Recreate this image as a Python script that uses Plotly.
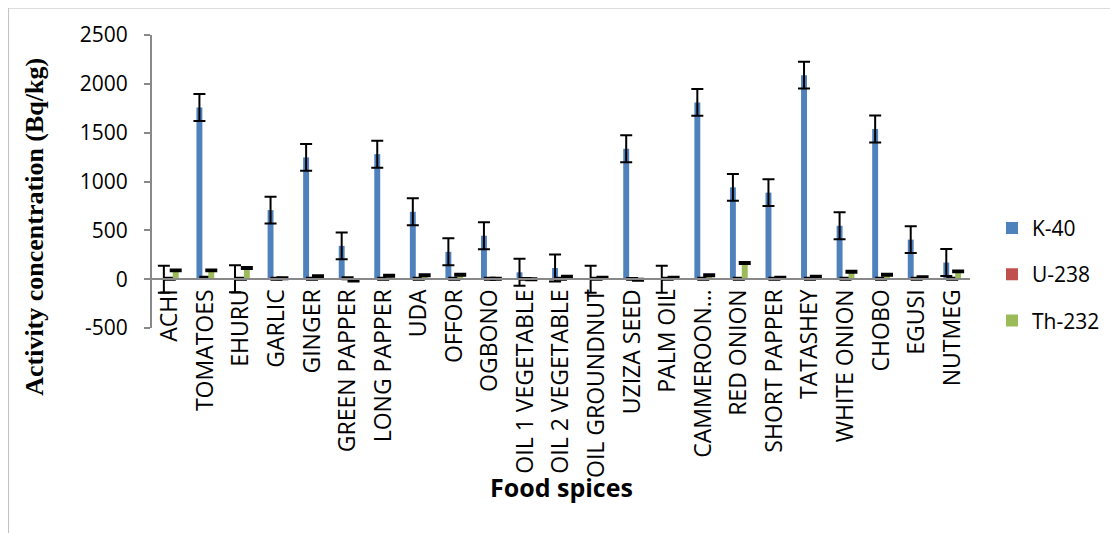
import plotly.graph_objects as go

categories = ["ACHI", "TOMATOES", "EHURU", "GARLIC", "GINGER", "GREEN PAPPER",
              "LONG PAPPER", "UDA", "OFFOR", "OGBONO", "OIL 1 VEGETABLE",
              "OIL 2 VEGETABLE", "OIL GROUNDNUT", "UZIZA SEED", "PALM OIL",
              "CAMMEROON…", "RED ONION", "SHORT PAPPER", "TATASHEY",
              "WHITE ONION", "CHOBO", "EGUSI", "NUTMEG"]

k40 = [0, 1757, 5, 707, 1247, 341, 1280, 690, 280, 445, 70, 114, 0, 1335, 0,
       1810, 940, 886, 2089, 547, 1537, 405, 170]
u238 = [5, 15, 5, 5, 5, 10, 5, 5, 5, 5, 3, 5, 5, 3, 5, 5, 5, 5, 5, 5, 5, 5, 5]
th232 = [90, 90, 115, 10, 30, -15, 35, 40, 45, 5, 0, 25, 15, -5, 15, 40, 165,
         15, 25, 75, 45, 20, 80]

k40_err = [138] * len(categories)
u238_err = [10] * len(categories)
th232_err = [10] * len(categories)

y_tickvals = [-500, 0, 500, 1000, 1500, 2000, 2500]
y_ticktext = ["-500", "0", "500", "1000", "1500", "2000", "2500"]

# page offset (browser body margin) compensation
OFF = 8
# plot-area pixel geometry in the screenshot
L, R, T, B = 151.5, 970.0, 35.0, 328.4
W, H = R - L, B - T
FW, FH = 1118, 533


def px(x):
    return (x - L) / W


def py(y):
    return (B - y) / H


def err(vals):
    return dict(type="data", array=vals, visible=True, color="black",
                thickness=2, width=6)


fig = go.Figure()
fig.add_trace(go.Bar(name="K-40", x=categories, y=k40, marker_color="#4F81BD",
                     error_y=err(k40_err), legendgroup="a"))
fig.add_trace(go.Bar(name="U-238", x=categories, y=u238, marker_color="#C0504D",
                     error_y=err(u238_err), legendgroup="b"))
fig.add_trace(go.Bar(name="Th-232", x=categories, y=th232, marker_color="#9BBB59",
                     error_y=err(th232_err), legendgroup="c"))

fig.update_layout(
    template="none",
    width=FW, height=FH,
    margin=dict(l=L - OFF, r=FW - (R - OFF), t=T - OFF, b=FH - (B - OFF), pad=0),
    paper_bgcolor="white", plot_bgcolor="white",
    barmode="group", bargap=0.5, bargroupgap=0,
    font=dict(family="Open Sans", size=20, color="black"),
    showlegend=True,
    legend=dict(x=px(992), y=py(208), xanchor="left", yanchor="top",
                font=dict(family="Open Sans", size=21, color="black"),
                tracegroupgap=16, bgcolor="rgba(0,0,0,0)"),
    xaxis=dict(anchor="free", position=1 / 6, showline=True,
               linecolor="#888888", linewidth=2, ticks="", tickangle=-90,
               showgrid=False, zeroline=False, automargin=False,
               tickfont=dict(family="Open Sans", size=23, color="black"),
               range=[-0.5, len(categories) - 0.5]),
    yaxis=dict(range=[-500, 2500], tickmode="array", tickvals=y_tickvals,
               ticktext=y_ticktext, showline=True,
               linecolor="#888888", linewidth=2, ticks="outside", ticklen=6,
               tickcolor="#888888", tickwidth=2, showgrid=False,
               zeroline=False, automargin=False, ticklabelstandoff=12,
               tickfont=dict(family="Open Sans", size=21, color="black")),
    annotations=[
        dict(text="<b>Activity concentration (Bq/kg)</b>", textangle=-90,
             xref="paper", yref="paper", x=px(34), y=py(227.5),
             xanchor="center", yanchor="middle", showarrow=False,
             font=dict(family="Liberation Serif", size=26, color="black")),
        dict(text="<b>Food spices</b>", xref="paper", yref="paper",
             x=px(561), y=py(488), xanchor="center", yanchor="middle",
             showarrow=False,
             font=dict(family="Open Sans", size=25, color="black")),
    ],
    shapes=[dict(type="rect", xref="paper", yref="paper",
                 x0=px(8), x1=px(1112), y0=py(560), y1=py(8),
                 line=dict(color="#BFBFBF", width=1), layer="below")],
)

fig.write_html("out.html")
